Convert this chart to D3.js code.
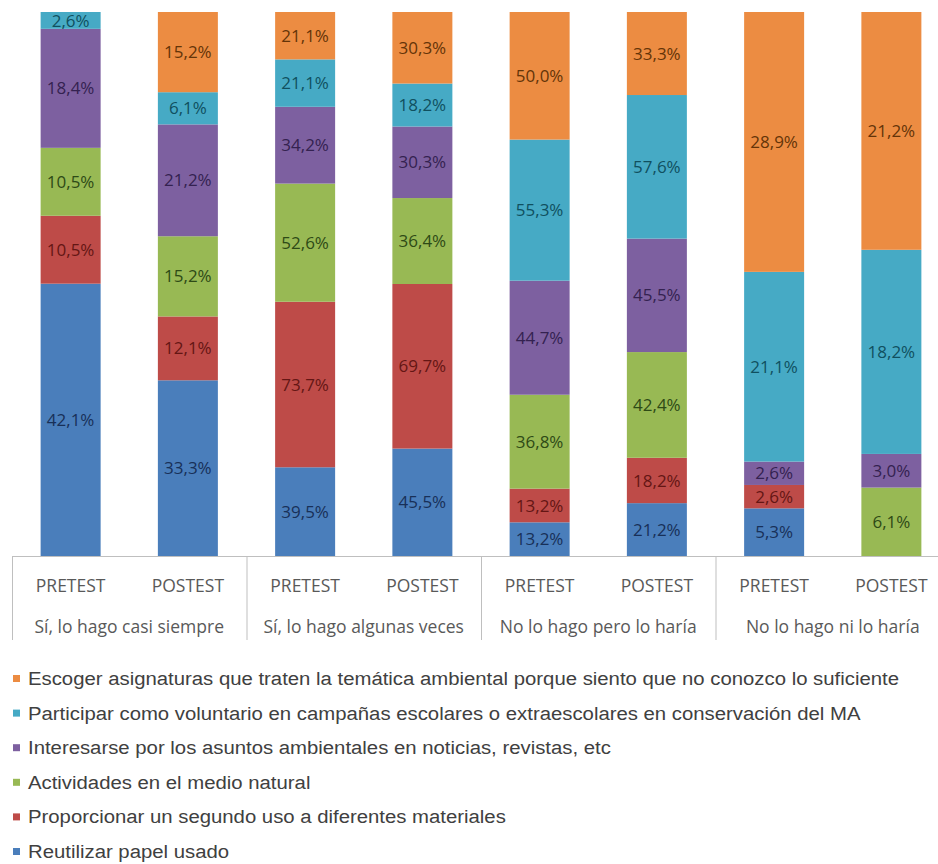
<!DOCTYPE html>
<html>
<head>
<meta charset="utf-8">
<script src="https://cdn.jsdelivr.net/npm/d3@7"></script>
<style>
  body { margin: 0; background: #fff; }
  svg { display: block; }
</style>
</head>
<body>
<svg id="chart"></svg>
<script>
// groups and bars on the x axis
var groups = ["Sí, lo hago casi siempre", "Sí, lo hago algunas veces", "No lo hago pero lo haría", "No lo hago ni lo haría"];
var tests = ["PRETEST", "POSTEST"];

// series, bottom to top of each bar
var series = [
  "Reutilizar papel usado",
  "Proporcionar un segundo uso a diferentes materiales",
  "Actividades en el medio natural",
  "Interesarse por los asuntos ambientales en noticias, revistas, etc",
  "Participar como voluntario en campañas escolares o extraescolares en conservación del MA",
  "Escoger asignaturas que traten la temática ambiental porque siento que no conozco lo suficiente"
];
var colors = ["#4a7ebb", "#be4b48", "#98b954", "#7d60a0", "#46aac5", "#ec8c42"];
var labelColors = ["#183058", "#641614", "#2e4a16", "#342250", "#10505f", "#643408"];

// values per series, one per bar (group x test order)
var reutilizar   = [42.1, 33.3, 39.5, 45.5, 13.2, 21.2, 5.3, 0];
var proporcionar = [10.5, 12.1, 73.7, 69.7, 13.2, 18.2, 2.6, 0];
var actividades  = [10.5, 15.2, 52.6, 36.4, 36.8, 42.4, 0, 6.1];
var interesarse  = [18.4, 21.2, 34.2, 30.3, 44.7, 45.5, 2.6, 3.0];
var participar   = [2.6, 6.1, 21.1, 18.2, 55.3, 57.6, 21.1, 18.2];
var escoger      = [0, 15.2, 21.1, 30.3, 50.0, 33.3, 28.9, 21.2];
var values = [reutilizar, proporcionar, actividades, interesarse, participar, escoger];

var W = 938, H = 864;
var svg = d3.select("#chart").attr("width", W).attr("height", H);

var left = 12, groupW = 234.5, plotTop = 12, base = 556;

// build table for the stack
var bars = [];
groups.forEach(function (g, gi) {
  tests.forEach(function (t, ti) {
    var row = { group: g, test: t };
    var i = gi * 2 + ti;
    series.forEach(function (s, si) { row[s] = values[si][i]; });
    bars.push(row);
  });
});

var pad = 1 - 60 / 117.25;
var x0 = d3.scaleBand().domain(groups).range([left, left + groupW * groups.length]);
var x1 = d3.scaleBand().domain(tests).range([0, x0.bandwidth()]).paddingInner(pad).paddingOuter(pad / 2);
var y = d3.scaleLinear().domain([0, 1]).range([base, plotTop]);

var stack = d3.stack().keys(series).offset(d3.stackOffsetExpand);
var layers = stack(bars);

var g = svg.append("g");

var layer = g.selectAll(".layer")
  .data(layers)
  .join("g")
  .attr("class", "layer")
  .attr("fill", function (d, i) { return colors[i]; });

layer.selectAll("rect")
  .data(function (d) { return d; })
  .join("rect")
  .attr("x", function (d) { return x0(d.data.group) + x1(d.data.test); })
  .attr("width", x1.bandwidth())
  .attr("y", function (d) { return y(d[1]); })
  .attr("height", function (d) { return y(d[0]) - y(d[1]); });

// data labels (raw values)
layers.forEach(function (l, si) {
  g.selectAll(".lab" + si)
    .data(l.filter(function (d) { return d.data[series[si]] > 0; }))
    .join("text")
    .attr("class", "lab" + si)
    .attr("x", function (d) { return x0(d.data.group) + x1(d.data.test) + x1.bandwidth() / 2; })
    .attr("y", function (d) { return (y(d[0]) + y(d[1])) / 2; })
    .attr("dy", "0.36em")
    .attr("text-anchor", "middle")
    .style("font-family", "'Open Sans', sans-serif")
    .style("font-size", "17px")
    .style("fill", labelColors[si])
    .text(function (d) { return d.data[series[si]].toFixed(1).replace(".", ",") + "%"; });
});

// category axis
var axisCol = "#bfbfbf";
g.append("line")
  .attr("x1", left).attr("x2", W)
  .attr("y1", base + 0.5).attr("y2", base + 0.5)
  .attr("stroke", axisCol);

g.selectAll(".sep")
  .data(groups.concat(["end"]))
  .join("line")
  .attr("class", "sep")
  .attr("x1", function (d, i) { return left + i * x0.step() + 0.5; })
  .attr("x2", function (d, i) { return left + i * x0.step() + 0.5; })
  .attr("y1", base).attr("y2", 640)
  .attr("stroke", axisCol);

g.selectAll(".tick-lab")
  .data(bars)
  .join("text")
  .attr("class", "tick-lab")
  .attr("x", function (d) { return x0(d.group) + x1(d.test) + x1.bandwidth() / 2; })
  .attr("y", 592)
  .attr("text-anchor", "middle")
  .style("font-family", "'Open Sans', sans-serif")
  .style("font-size", "17.5px")
  .style("fill", "#595959")
  .text(function (d) { return d.test; });

g.selectAll(".group-lab")
  .data(groups)
  .join("text")
  .attr("class", "group-lab")
  .attr("x", function (d) { return x0(d) + x0.bandwidth() / 2; })
  .attr("y", 633)
  .attr("text-anchor", "middle")
  .style("font-family", "'Open Sans', sans-serif")
  .style("font-size", "17.5px")
  .style("fill", "#595959")
  .text(function (d) { return d; });

// legend, top row is last series
var legendOrder = series.slice().reverse();
var legend = svg.append("g").attr("transform", "translate(13,0)");
var item = legend.selectAll(".item")
  .data(legendOrder)
  .join("g")
  .attr("class", "item")
  .attr("transform", function (d, i) { return "translate(0," + (685 + i * 34.6) + ")"; });

item.append("rect")
  .attr("x", 0).attr("y", -10)
  .attr("width", 7).attr("height", 7)
  .attr("fill", function (d) { return colors[series.indexOf(d)]; });

item.append("text")
  .attr("transform", "translate(15,0) scale(1.13,1)")
  .style("font-family", "'Liberation Sans', Arial, sans-serif")
  .style("font-size", "18px")
  .style("fill", "#404040")
  .text(function (d) { return d; });
</script>
</body>
</html>
